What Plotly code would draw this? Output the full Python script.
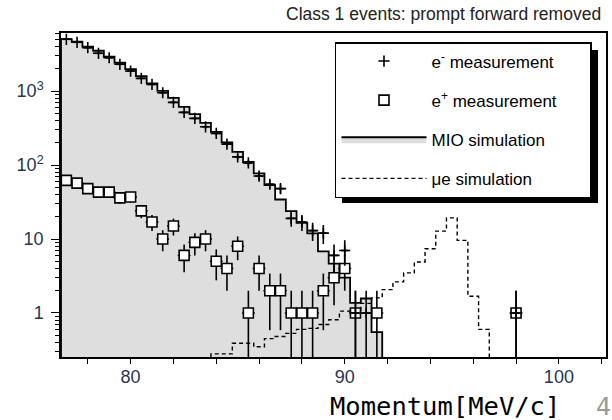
import numpy as np
import plotly.graph_objects as go

# ---------------- data ----------------
BIN_WIDTH = 0.5

MIO_CENTERS = [77.0, 77.5, 78.0, 78.5, 79.0, 79.5, 80.0, 80.5, 81.0, 81.5,
               82.0, 82.5, 83.0, 83.5, 84.0, 84.5, 85.0, 85.5, 86.0, 86.5,
               87.0, 87.5, 88.0, 88.5, 89.0, 89.5, 90.0, 90.5, 91.0, 91.5]
MIO_VALUES = [5050, 4645, 3980, 3510, 2910, 2415, 1985, 1596, 1270, 1009,
              811, 613, 489, 372, 281, 202, 151, 110, 77, 53.5,
              34.2, 23.8, 16.5, 11.9, 6.8, 4.66, 3.0, 1.37, 1.57, 0.55]

MUE_CENTERS = [84.0, 84.5, 85.0, 85.5, 86.0, 86.5, 87.0, 87.5, 88.0, 88.5,
               89.0, 89.5, 90.0, 90.5, 91.0, 91.5, 92.0, 92.5, 93.0, 93.5,
               94.0, 94.5, 95.0, 95.5, 96.0, 96.5]
MUE_VALUES = [0.28, 0.28, 0.39, 0.39, 0.35, 0.45, 0.48, 0.53, 0.60, 0.62,
              0.70, 0.81, 1.06, 1.08, 1.35, 1.6, 2.07, 2.63, 3.48, 4.9,
              7.4, 12.8, 19.3, 9.6, 1.68, 0.6]

EM_X = [77.0, 77.5, 78.0, 78.5, 79.0, 79.5, 80.0, 80.5, 81.0, 81.5,
        82.0, 82.5, 83.0, 83.5, 84.0, 84.5, 85.0, 85.5, 86.0, 86.5,
        87.0, 87.5, 88.0, 88.5, 89.0, 89.5, 90.0, 90.5, 91.0, 98.0]
EM_Y = [5010, 4560, 3855, 3240, 2820, 2300, 1866, 1486, 1233, 949,
        703, 515, 427, 329, 268, 192, 129, 107, 71, 55,
        48, 19, 17, 13, 12, 6, 7, 1, 1, 1]

EP_X = [77.0, 77.5, 78.0, 78.5, 79.0, 79.5, 80.0, 80.5, 81.0, 81.5,
        82.0, 82.5, 83.0, 83.5, 84.0, 84.5, 85.0, 85.5, 86.0, 86.5,
        87.0, 87.5, 88.0, 88.5, 89.0, 89.5, 90.0, 90.5, 91.5, 98.0]
EP_Y = [62, 57, 48, 43, 43, 36, 37, 24, 17, 10,
        15, 6, 9, 10, 5, 4, 8, 1, 4, 2,
        2, 1, 1, 1, 2, 3, 4, 1, 1, 1]

X_TICKS = [80, 90, 100]
Y_TICKS = [1, 10, 100, 1000]
Y_TICKTEXT = ["1", "10", "10<sup>2</sup>", "10<sup>3</sup>"]
Y_MINOR = [m * 10 ** d for d in (-1, 0, 1, 2, 3) for m in range(2, 10)]

TITLE = "Class 1 events: prompt forward removed"
XLABEL = "Momentum[MeV/c]"
PAGE = "4"
NAMES = ["e<sup>-</sup> measurement", "e<sup>+</sup> measurement",
         "MIO simulation", "\u03bce simulation"]

# ---------------- layout geometry ----------------
W, H = 612, 420
ML, MR, MT, MB = 61, 4, 33, 63
X_RANGE = [76.75, 102.2]
Y_LOG_RANGE = [-0.595, 3.785]
FLOOR = 10 ** Y_LOG_RANGE[0]
PW, PH = W - ML - MR, H - MT - MB


def px2paper_x(px):
    return (px - ML) / PW


def px2paper_y(py):
    return (H - MB - py) / PH


def step_xy(centers, values):
    c = np.asarray(centers, float)
    v = np.asarray(values, float)
    edges = np.concatenate([c - BIN_WIDTH / 2, [c[-1] + BIN_WIDTH / 2]])
    xs = np.concatenate([[edges[0]], edges, [edges[-1]]])
    ys = np.concatenate([[FLOOR], v, [v[-1], FLOOR]])
    return xs, ys


FONT = "Liberation Sans, Arial, sans-serif"
PAD = "\u00a0" * 6

fig = go.Figure()

# MIO simulation (filled step histogram)
mx, my = step_xy(MIO_CENTERS, MIO_VALUES)
fig.add_trace(go.Scatter(
    x=[mx[0], mx[-1]], y=[FLOOR, FLOOR], mode="lines",
    line=dict(width=0), showlegend=False, hoverinfo="skip"))
fig.add_trace(go.Scatter(
    x=mx, y=my, mode="lines", line=dict(shape="hv", color="black", width=1.8),
    fill="tonexty", fillcolor="#dedede", name=NAMES[2],
    legendgroup="c", legendrank=3))

# mu-e simulation (dashed step)
ux, uy = step_xy(MUE_CENTERS, MUE_VALUES)
fig.add_trace(go.Scatter(
    x=ux, y=uy, mode="lines",
    line=dict(shape="hv", color="black", width=1.4, dash="4px,3px"),
    name=NAMES[3], legendgroup="d", legendrank=4))

# e+ measurement
fig.add_trace(go.Scatter(
    x=EP_X, y=EP_Y, mode="markers",
    marker=dict(symbol="square", size=10, color="white",
                line=dict(color="black", width=1.6)),
    error_y=dict(type="data", array=np.sqrt(EP_Y), color="black",
                 thickness=1.6, width=0),
    error_x=dict(type="constant", value=0.3, color="black",
                 thickness=1.4, width=0),
    name=NAMES[1] + PAD, legendgroup="b", legendrank=2))

# e- measurement
fig.add_trace(go.Scatter(
    x=EM_X, y=EM_Y, mode="markers",
    marker=dict(symbol="cross-thin", size=8, color="black",
                line=dict(color="black", width=1.6)),
    error_y=dict(type="data", array=np.sqrt(EM_Y), color="black",
                 thickness=1.6, width=0),
    error_x=dict(type="constant", value=0.18, color="black",
                 thickness=1.6, width=0),
    name=NAMES[0], legendgroup="a", legendrank=1))

# legend shadow
fig.add_shape(type="rect", xref="paper", yref="paper",
              x0=px2paper_x(343), x1=px2paper_x(600),
              y0=px2paper_y(203), y1=px2paper_y(50),
              fillcolor="black", line=dict(width=0), layer="above")

fig.add_annotation(text=TITLE, xref="paper", yref="paper",
                   x=px2paper_x(605), y=px2paper_y(14), xanchor="right",
                   yanchor="middle", showarrow=False,
                   font=dict(family=FONT, size=17.5, color="#222"))
fig.add_annotation(text=XLABEL, xref="paper", yref="paper",
                   x=px2paper_x(446), y=px2paper_y(406), xanchor="center",
                   yanchor="middle", showarrow=False,
                   font=dict(family="DejaVu Sans Mono, monospace", size=25.5,
                             color="black"))
fig.add_annotation(text=PAGE, xref="paper", yref="paper",
                   x=px2paper_x(596), y=px2paper_y(406), xanchor="left",
                   yanchor="middle", showarrow=False,
                   font=dict(family="DejaVu Sans Mono, monospace", size=25,
                             color="#999"))

fig.update_layout(
    width=W, height=H,
    margin=dict(l=ML, r=MR, t=MT, b=MB, pad=0),
    paper_bgcolor="white", plot_bgcolor="white",
    font=dict(family=FONT, size=18, color="#2a3550"),
    showlegend=True,
    legend=dict(x=px2paper_x(336), y=px2paper_y(42), xanchor="left",
                yanchor="top", bgcolor="white", bordercolor="black",
                borderwidth=1.5, itemwidth=85, tracegroupgap=14,
                traceorder="grouped",
                font=dict(family=FONT, size=17, color="black")),
    xaxis=dict(range=X_RANGE, tickvals=X_TICKS, ticks="outside", ticklen=5,
               tickwidth=1.3, tickcolor="black", showline=True,
               linecolor="black", linewidth=1.5, mirror=True, showgrid=False,
               zeroline=False, ticklabelstandoff=-2,
               minor=dict(dtick=2, tick0=0, ticks="outside", ticklen=5,
                          tickwidth=1.2, tickcolor="black", showgrid=False)),
    yaxis=dict(type="log", range=Y_LOG_RANGE, tickvals=Y_TICKS,
               ticktext=Y_TICKTEXT, ticks="outside", ticklen=8, tickwidth=1.3,
               tickcolor="black", showline=True, linecolor="black",
               linewidth=1.5, mirror=True, showgrid=False, zeroline=False,
               ticklabelstandoff=4,
               minor=dict(tickvals=Y_MINOR, ticks="outside", ticklen=4,
                          tickwidth=1.1, tickcolor="black", showgrid=False)),
)

fig.write_html("out.html")
